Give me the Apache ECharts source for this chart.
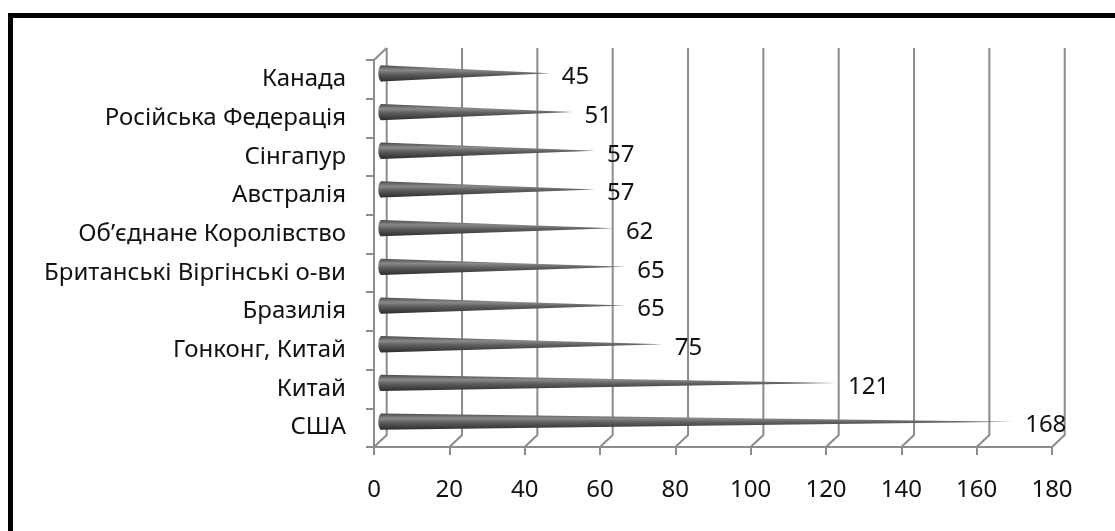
<!DOCTYPE html>
<html>
<head>
<meta charset="utf-8">
<script src="https://cdn.jsdelivr.net/npm/echarts@6/dist/echarts.min.js"></script>
<style>
  html, body { margin: 0; padding: 0; background: #ffffff; }
  #chart { width: 1115px; height: 531px; }
</style>
</head>
<body>
<div id="chart"></div>
<script>
// Countries, bottom to top along the category axis
const categories = [
  'США',
  'Китай',
  'Гонконг, Китай',
  'Бразилія',
  'Британські Віргінські о-ви',
  'Об’єднане Королівство',
  'Австралія',
  'Сінгапур',
  'Російська Федерація',
  'Канада'
];
const values = [168, 121, 75, 65, 65, 62, 57, 57, 51, 45];
const xTicks = [0, 20, 40, 60, 80, 100, 120, 140, 160, 180];

// 3D depth of the plot box (back wall is shifted right/up by this much)
const DEPTH_X = 12.7;
const DEPTH_Y = 12;
const AXIS_GRAY = '#8c8c8c';
const TEXT_COLOR = '#111111';
const FONT = '"Noto Sans", "DejaVu Sans", sans-serif';

const chart = echarts.init(document.getElementById('chart'), null, { renderer: 'canvas' });

// Back wall gridlines with floor connectors
function renderWall(params, api) {
  const cs = params.coordSys;
  const v = api.value(0);
  const x = api.coord([v, categories[0]])[0];
  const bottom = cs.y + cs.height;
  const top = cs.y;
  const style = { stroke: AXIS_GRAY, lineWidth: 2, fill: null };
  const children = [{
    type: 'polyline',
    shape: { points: [[x, bottom], [x + DEPTH_X, bottom - DEPTH_Y], [x + DEPTH_X, top - DEPTH_Y]] },
    style: style
  }];
  if (v === 0) {
    children.push({
      type: 'line',
      shape: { x1: x, y1: top, x2: x + DEPTH_X, y2: top - DEPTH_Y },
      style: style
    });
  }
  return { type: 'group', children: children };
}

// Cone-shaped bars set halfway into the box depth
function renderCone(params, api) {
  const v = api.value(0);
  const cat = api.value(1);
  const start = api.coord([0, cat]);
  const end = api.coord([v, cat]);
  const band = api.size([0, 1])[1];
  const r = band * 0.21;
  const cy = start[1] - DEPTH_Y / 2;
  const bx = start[0] + DEPTH_X / 2 + 1;
  const tx = end[0] + DEPTH_X / 2;
  const fill = new echarts.graphic.LinearGradient(0, 0, 0, 1, [
    { offset: 0, color: '#4a4a4a' },
    { offset: 0.3, color: '#8a8a8a' },
    { offset: 0.55, color: '#5e5e5e' },
    { offset: 1, color: '#2c2c2c' }
  ]);
  return {
    type: 'group',
    children: [
      {
        type: 'polygon',
        shape: { points: [[bx, cy - r], [tx, cy], [bx, cy + r]] },
        style: { fill: fill }
      },
      {
        type: 'ellipse',
        shape: { cx: bx, cy: cy, rx: 3, ry: r },
        style: { fill: fill }
      },
      {
        type: 'text',
        style: {
          text: String(v),
          x: tx + 12,
          y: cy + 4,
          verticalAlign: 'middle',
          align: 'left',
          fill: TEXT_COLOR,
          font: '24px ' + FONT
        }
      }
    ]
  };
}

const option = {
  animation: false,
  backgroundColor: '#ffffff',
  graphic: [{
    type: 'rect',
    shape: { x: 10.5, y: 15.5, width: 1300, height: 800 },
    style: { fill: null, stroke: '#000000', lineWidth: 5 },
    z: 10
  }],
  grid: { left: 374, right: 63, top: 60, bottom: 84, containLabel: false },
  xAxis: {
    type: 'value',
    min: 0,
    max: 180,
    interval: 20,
    axisLine: { show: true, lineStyle: { color: AXIS_GRAY, width: 2 } },
    axisTick: { show: true, length: 8, lineStyle: { color: AXIS_GRAY, width: 2 } },
    splitLine: { show: false },
    axisLabel: { margin: 31, fontSize: 24, color: TEXT_COLOR, fontFamily: FONT }
  },
  yAxis: {
    type: 'category',
    data: categories,
    axisLine: { show: true, lineStyle: { color: AXIS_GRAY, width: 2 } },
    axisTick: { show: true, length: 8, lineStyle: { color: AXIS_GRAY, width: 2 } },
    axisLabel: { margin: 28, fontSize: 24, color: TEXT_COLOR, fontFamily: FONT }
  },
  series: [
    {
      type: 'custom',
      renderItem: renderWall,
      data: xTicks.map(t => [t]),
      encode: { x: 0 },
      silent: true,
      z: 1
    },
    {
      type: 'custom',
      renderItem: renderCone,
      data: values.map((v, i) => [v, categories[i]]),
      encode: { x: 0, y: 1 },
      z: 3
    }
  ]
};

chart.setOption(option);
</script>
</body>
</html>
